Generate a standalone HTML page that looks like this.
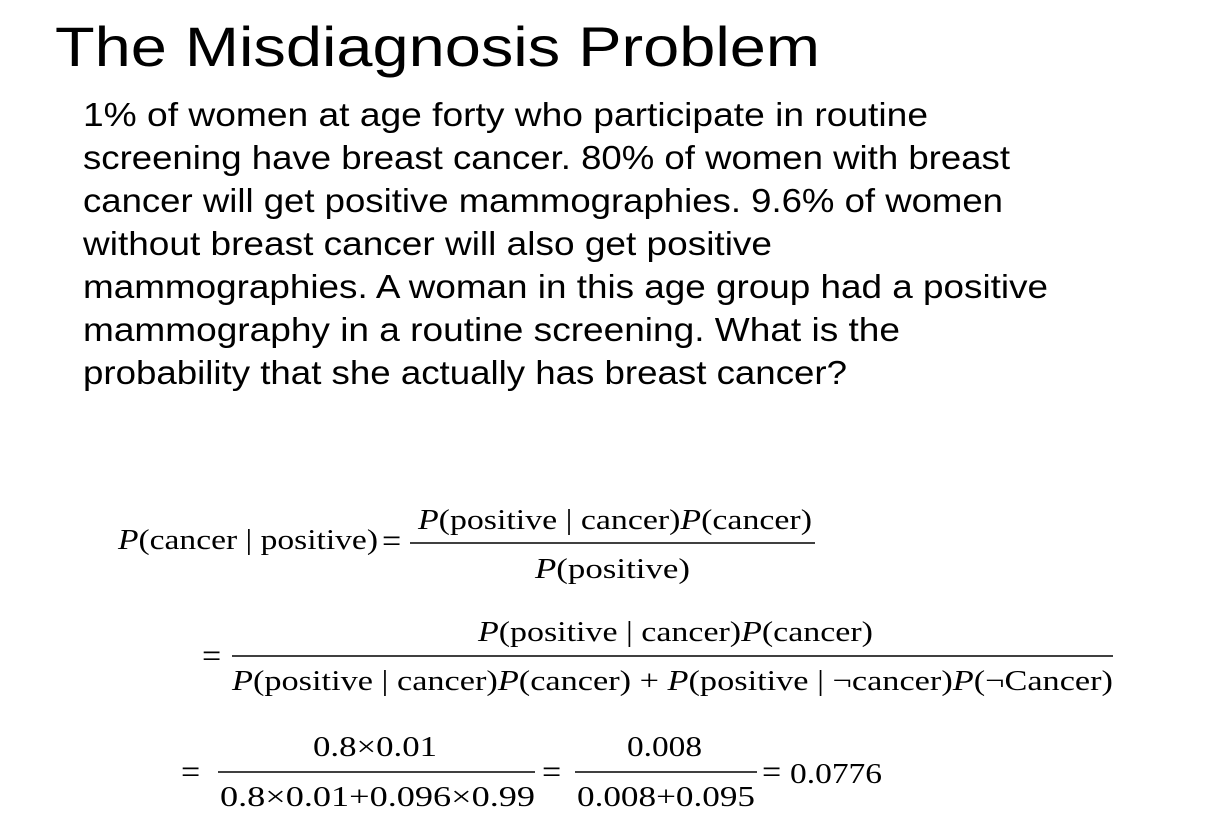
<!DOCTYPE html>
<html><head><meta charset="utf-8"><style>
html,body{margin:0;padding:0;background:#fff;}
svg{display:block}
.s{font-family:"Liberation Sans",sans-serif;fill:#000}
.m{font-family:"Liberation Serif",serif;fill:#000;font-size:28px}
.e{font-family:"Liberation Serif",serif;fill:#000;font-size:34px}
.i{font-style:italic}
</style></head><body>
<svg width="1207" height="839" viewBox="0 0 1207 839">
<text class="s" x="55" y="66" font-size="56" textLength="765" lengthAdjust="spacingAndGlyphs">The Misdiagnosis Problem</text>
<g class="s" font-size="33">
<text x="83" y="126" textLength="845" lengthAdjust="spacingAndGlyphs">1% of women at age forty who participate in routine</text>
<text x="83" y="169" textLength="927" lengthAdjust="spacingAndGlyphs">screening have breast cancer.  80% of women with breast</text>
<text x="83" y="212" textLength="920" lengthAdjust="spacingAndGlyphs">cancer will get positive mammographies. 9.6% of women</text>
<text x="83" y="255" textLength="689" lengthAdjust="spacingAndGlyphs">without breast cancer will also get positive</text>
<text x="83" y="298" textLength="965" lengthAdjust="spacingAndGlyphs">mammographies.  A woman in this age group had a positive</text>
<text x="83" y="341" textLength="817" lengthAdjust="spacingAndGlyphs">mammography in a routine screening.  What is the</text>
<text x="83" y="384" textLength="764" lengthAdjust="spacingAndGlyphs">probability that she actually has breast cancer?</text>
</g>
<g>
<text class="m" x="118" y="549" textLength="260" lengthAdjust="spacingAndGlyphs"><tspan class="i">P</tspan>(cancer | positive)</text>
<text class="e" x="382" y="552">=</text>
<text class="m" x="418" y="529" textLength="394" lengthAdjust="spacingAndGlyphs"><tspan class="i">P</tspan>(positive | cancer)<tspan class="i">P</tspan>(cancer)</text>
<line x1="410" y1="543" x2="815" y2="543" stroke="#000" stroke-width="1.5"/>
<text class="m" x="535" y="578" textLength="155" lengthAdjust="spacingAndGlyphs"><tspan class="i">P</tspan>(positive)</text>

<text class="e" x="202" y="667">=</text>
<text class="m" x="478" y="641" textLength="395" lengthAdjust="spacingAndGlyphs"><tspan class="i">P</tspan>(positive | cancer)<tspan class="i">P</tspan>(cancer)</text>
<line x1="232" y1="656" x2="1113" y2="656" stroke="#000" stroke-width="1.5"/>
<text class="m" x="232" y="690" textLength="881" lengthAdjust="spacingAndGlyphs"><tspan class="i">P</tspan>(positive | cancer)<tspan class="i">P</tspan>(cancer) + <tspan class="i">P</tspan>(positive | ¬cancer)<tspan class="i">P</tspan>(¬Cancer)</text>

<text class="e" x="181" y="783">=</text>
<text class="m" x="313" y="756" textLength="124" lengthAdjust="spacingAndGlyphs">0.8×0.01</text>
<line x1="218" y1="772" x2="535" y2="772" stroke="#000" stroke-width="1.5"/>
<text class="m" x="220" y="806" textLength="315" lengthAdjust="spacingAndGlyphs">0.8×0.01+0.096×0.99</text>
<text class="e" x="542" y="783">=</text>
<text class="m" x="627" y="756" textLength="75" lengthAdjust="spacingAndGlyphs">0.008</text>
<line x1="575" y1="772" x2="757" y2="772" stroke="#000" stroke-width="1.5"/>
<text class="m" x="577" y="806" textLength="178" lengthAdjust="spacingAndGlyphs">0.008+0.095</text>
<text class="e" x="762" y="783">=</text>
<text class="m" x="790" y="783" textLength="92" lengthAdjust="spacingAndGlyphs">0.0776</text>
</g>
</svg>
</body></html>
